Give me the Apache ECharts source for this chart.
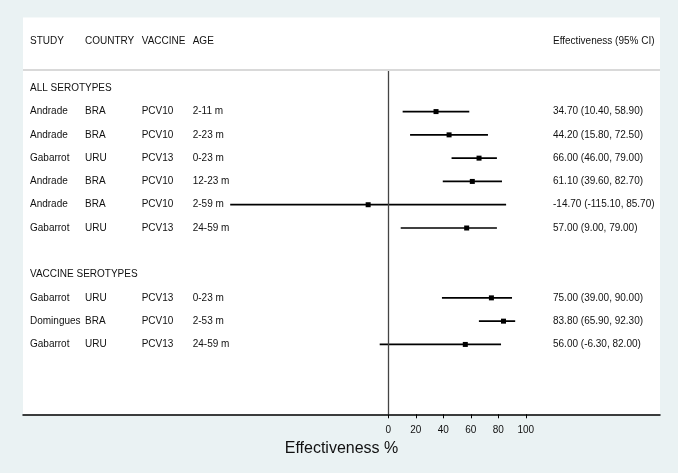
<!DOCTYPE html>
<html><head><meta charset="utf-8">
<script src="https://cdn.jsdelivr.net/npm/echarts@6/dist/echarts.min.js"></script>
<style>html,body{margin:0;padding:0;background:#eaf2f3}#c{width:678px;height:473px}</style>
</head><body><div id="c"></div>
<script>
// ---- data ----
const rows = [3, 4, 5, 6, 7, 8, 11, 12, 13];
const studies = ['Andrade','Andrade','Gabarrot','Andrade','Andrade','Gabarrot','Gabarrot','Domingues','Gabarrot'];
const countries = ['BRA','BRA','URU','BRA','BRA','URU','URU','BRA','URU'];
const vaccines = ['PCV10','PCV10','PCV13','PCV10','PCV10','PCV13','PCV13','PCV10','PCV13'];
const ages = ['2-11 m','2-23 m','0-23 m','12-23 m','2-59 m','24-59 m','0-23 m','2-53 m','24-59 m'];
const estimates = [34.70, 44.20, 66.00, 61.10, -14.70, 57.00, 75.00, 83.80, 56.00];
const lowers = [10.40, 15.80, 46.00, 39.60, -115.10, 9.00, 39.00, 65.90, -6.30];
const uppers = [58.90, 72.50, 79.00, 82.70, 85.70, 79.00, 90.00, 92.30, 82.00];
const groupNames = ['ALL SEROTYPES', 'VACCINE SEROTYPES'];
const groupRows = [2, 10];
const headers = ['STUDY', 'COUNTRY', 'VACCINE', 'AGE'];
const ciHeader = 'Effectiveness (95% CI)';
const xTicks = [0, 20, 40, 60, 80, 100];
const axisTitle = 'Effectiveness %';

// ---- layout ----
const W = 678, H = 473;
const gridLeft = 23, gridRight = 18, gridTop = 17.5, gridBottom = 58.7;
const xMin = -265.9, xMax = 197.7;
const yMin = -1.04, yMax = 16;
const headerRow = 0, sepRow = 1.19;
const colPx = [30, 85, 141.7, 192.7];
const ciPx = 553;
const FONT = '"Liberation Sans", Arial, Helvetica, sans-serif';
const gridW = W - gridLeft - gridRight;
function pxToX(px) { return xMin + (px - gridLeft) / gridW * (xMax - xMin); }

const textItems = [];
headers.forEach((h, j) => textItems.push({x: pxToX(colPx[j]), row: headerRow, text: h}));
textItems.push({x: pxToX(ciPx), row: headerRow, text: ciHeader});
groupNames.forEach((g, j) => textItems.push({x: pxToX(colPx[0]), row: groupRows[j], text: g}));
rows.forEach((r, i) => {
  [studies[i], countries[i], vaccines[i], ages[i]].forEach((t, j) =>
    textItems.push({x: pxToX(colPx[j]), row: r, text: t}));
  textItems.push({x: pxToX(ciPx), row: r,
    text: estimates[i].toFixed(2) + ' (' + lowers[i].toFixed(2) + ', ' + uppers[i].toFixed(2) + ')'});
});

const chart = echarts.init(document.getElementById('c'), null, {renderer: 'canvas'});
chart.setOption({
  animation: false,
  backgroundColor: '#eaf2f3',
  grid: {left: gridLeft, right: gridRight, top: gridTop, bottom: gridBottom,
         show: true, backgroundColor: '#ffffff', borderWidth: 0, containLabel: false},
  xAxis: {
    type: 'value', min: xMin, max: xMax,
    splitLine: {show: false},
    axisLine: {show: true, onZero: false, lineStyle: {color: '#000', width: 1.5}},
    axisTick: {show: true, customValues: xTicks, length: 4, lineStyle: {color: '#000', width: 1}},
    axisLabel: {show: true, customValues: xTicks, color: '#111', fontSize: 10, fontFamily: FONT, margin: 11},
    name: axisTitle, nameLocation: 'middle', nameGap: 23,
    nameTextStyle: {color: '#111', fontSize: 16, fontFamily: FONT}
  },
  yAxis: {
    type: 'value', inverse: true, min: yMin, max: yMax,
    show: false, splitLine: {show: false}
  },
  series: [
    {
      type: 'custom',
      name: 'ci',
      encode: {x: [1, 2, 3], y: 0},
      data: rows.map((r, i) => [r, lowers[i], uppers[i], estimates[i]]),
      renderItem: function (params, api) {
        const y = api.value(0);
        const p1 = api.coord([api.value(1), y]);
        const p2 = api.coord([api.value(2), y]);
        const pc = api.coord([api.value(3), y]);
        return {type: 'group', children: [
          {type: 'line', shape: {x1: p1[0], y1: p1[1], x2: p2[0], y2: p2[1]},
           style: {stroke: '#000', lineWidth: 1.7}},
          {type: 'rect', shape: {x: pc[0] - 2.5, y: pc[1] - 2.5, width: 5, height: 5},
           style: {fill: '#000'}}
        ]};
      },
      markLine: {
        silent: true, symbol: 'none', label: {show: false},
        data: [
          [{coord: [0, sepRow], lineStyle: {color: '#444', width: 1.3, type: 'solid'}},
           {coord: [0, yMax]}],
          {yAxis: sepRow, lineStyle: {color: '#d9d9d9', width: 2, type: 'solid'}}
        ]
      },
      z: 3
    },
    {
      type: 'custom',
      name: 'text',
      encode: {x: 0, y: 1},
      data: textItems.map(t => [t.x, t.row]),
      renderItem: function (params, api) {
        const p = api.coord([api.value(0), api.value(1)]);
        return {type: 'text', x: p[0], y: p[1],
          style: {text: textItems[params.dataIndex].text, fill: '#111',
                  font: '10px ' + FONT, align: 'left', verticalAlign: 'middle'}};
      },
      z: 4
    }
  ]
});
</script></body></html>
